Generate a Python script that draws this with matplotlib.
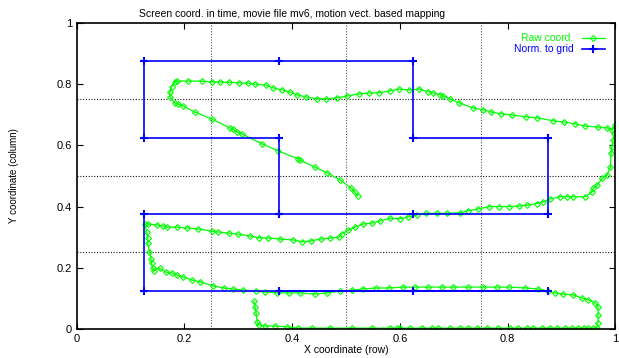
import matplotlib
matplotlib.use('Agg')
import matplotlib.pyplot as plt

plt.rcParams['font.family'] = ['Liberation Sans', 'DejaVu Sans']

# raw screen coordinates (green)
raw_x = [0.522, 0.517, 0.510, 0.489, 0.465, 0.442, 0.414, 0.411, 0.374, 0.344, 0.307,
         0.297, 0.290, 0.284, 0.251, 0.219, 0.197, 0.188, 0.182, 0.173, 0.173, 0.176,
         0.182, 0.186, 0.206, 0.232, 0.251, 0.266, 0.283, 0.301, 0.318, 0.331, 0.351,
         0.364, 0.381, 0.396, 0.409, 0.426, 0.446, 0.463, 0.483, 0.502, 0.524, 0.543,
         0.561, 0.582, 0.599, 0.617, 0.636, 0.653, 0.662, 0.675, 0.680, 0.693, 0.710,
         0.736, 0.755, 0.770, 0.788, 0.809, 0.835, 0.855, 0.885, 0.905, 0.926, 0.944,
         0.967, 0.985, 0.994, 1.000, 0.998, 0.996, 0.994, 0.992, 0.991, 0.985, 0.976,
         0.966, 0.959, 0.957, 0.944, 0.922, 0.910, 0.898, 0.879, 0.866, 0.855, 0.836,
         0.822, 0.803, 0.784, 0.766, 0.745, 0.727, 0.712, 0.688, 0.669, 0.649, 0.632,
         0.615, 0.600, 0.582, 0.563, 0.548, 0.532, 0.517, 0.504, 0.492, 0.487, 0.470,
         0.453, 0.435, 0.418, 0.402, 0.377, 0.355, 0.338, 0.322, 0.299, 0.283, 0.262,
         0.251, 0.225, 0.205, 0.186, 0.167, 0.160, 0.149, 0.132, 0.126, 0.130, 0.132,
         0.132, 0.135, 0.138, 0.139, 0.141, 0.143, 0.154, 0.165, 0.177, 0.186, 0.197,
         0.214, 0.229, 0.253, 0.273, 0.290, 0.309, 0.333, 0.349, 0.372, 0.394, 0.414,
         0.442, 0.465, 0.489, 0.511, 0.532, 0.556, 0.580, 0.606, 0.628, 0.652, 0.678,
         0.699, 0.727, 0.755, 0.781, 0.803, 0.833, 0.857, 0.875, 0.888, 0.903, 0.922,
         0.939, 0.950, 0.963, 0.968, 0.968, 0.968, 0.966, 0.959, 0.950, 0.941, 0.931,
         0.920, 0.907, 0.892, 0.879, 0.864, 0.848, 0.836, 0.820, 0.805, 0.782, 0.762,
         0.743, 0.727, 0.712, 0.693, 0.671, 0.660, 0.641, 0.619, 0.600, 0.595, 0.582,
         0.548, 0.511, 0.470, 0.437, 0.411, 0.390, 0.368, 0.349, 0.338, 0.335, 0.333,
         0.331, 0.329]
raw_y = [0.435, 0.446, 0.460, 0.487, 0.510, 0.529, 0.552, 0.556, 0.582, 0.605, 0.637,
         0.644, 0.653, 0.657, 0.686, 0.709, 0.729, 0.735, 0.739, 0.758, 0.775, 0.791,
         0.807, 0.810, 0.810, 0.810, 0.807, 0.807, 0.806, 0.804, 0.803, 0.800, 0.797,
         0.788, 0.781, 0.774, 0.765, 0.758, 0.752, 0.752, 0.755, 0.761, 0.768, 0.771,
         0.772, 0.778, 0.784, 0.781, 0.784, 0.775, 0.771, 0.765, 0.762, 0.752, 0.739,
         0.722, 0.716, 0.709, 0.703, 0.699, 0.693, 0.690, 0.680, 0.676, 0.670, 0.663,
         0.660, 0.657, 0.650, 0.667, 0.640, 0.618, 0.595, 0.575, 0.530, 0.503, 0.493,
         0.470, 0.460, 0.448, 0.432, 0.432, 0.432, 0.432, 0.425, 0.415, 0.410, 0.405,
         0.402, 0.400, 0.400, 0.400, 0.392, 0.386, 0.380, 0.378, 0.378, 0.378, 0.373,
         0.366, 0.360, 0.362, 0.353, 0.346, 0.343, 0.333, 0.323, 0.310, 0.300, 0.297,
         0.294, 0.288, 0.285, 0.291, 0.294, 0.297, 0.298, 0.304, 0.310, 0.313, 0.317,
         0.320, 0.327, 0.330, 0.333, 0.333, 0.336, 0.340, 0.343, 0.343, 0.317, 0.297,
         0.280, 0.252, 0.229, 0.216, 0.199, 0.190, 0.199, 0.186, 0.183, 0.176, 0.170,
         0.160, 0.154, 0.141, 0.134, 0.131, 0.127, 0.124, 0.121, 0.118, 0.118, 0.118,
         0.114, 0.118, 0.124, 0.127, 0.131, 0.134, 0.134, 0.137, 0.137, 0.137, 0.137,
         0.137, 0.137, 0.137, 0.137, 0.137, 0.134, 0.131, 0.124, 0.118, 0.114, 0.111,
         0.101, 0.095, 0.085, 0.072, 0.046, 0.020, 0.003, 0.003, 0.003, 0.003, 0.003,
         0.003, 0.003, 0.003, 0.003, 0.003, 0.003, 0.003, 0.003, 0.003, 0.003, 0.003,
         0.003, 0.003, 0.003, 0.003, 0.003, 0.003, 0.003, 0.003, 0.003, 0.003, 0.003,
         0.003, 0.003, 0.003, 0.003, 0.003, 0.007, 0.010, 0.010, 0.013, 0.023, 0.052,
         0.072, 0.090]

# normalised to 4x4 grid (blue)
grid_x = [0.375, 0.375, 0.125, 0.125, 0.375, 0.625, 0.625, 0.875, 0.875, 0.625, 0.375,
          0.125, 0.125, 0.375, 0.625, 0.875, 0.625, 0.375]
grid_y = [0.375, 0.625, 0.625, 0.875, 0.875, 0.875, 0.625, 0.625, 0.375, 0.375, 0.375,
          0.375, 0.125, 0.125, 0.125, 0.125, 0.125, 0.125]

ticks = [0, 0.2, 0.4, 0.6, 0.8, 1]
tick_labels = ['0', '0.2', '0.4', '0.6', '0.8', '1']
grid_lines = [0.25, 0.5, 0.75]

fig = plt.figure(figsize=(6.19, 3.58), dpi=100)
ax = fig.add_axes([0.124, 0.081, 0.87, 0.855])

for g in grid_lines:
    ax.axvline(g, color='0.35', ls=(0, (1, 1.5)), lw=0.8, zorder=0)
    ax.axhline(g, color='0.1', ls=(0, (1, 1.5)), lw=0.8, zorder=0)

ax.plot(raw_x, raw_y, color='#00ff00', lw=0.9, marker='D', ms=3, mfc='none',
        mew=0.8, label='Raw coord.')
ax.plot(grid_x, grid_y, color='#0000ff', lw=1.2, marker='+', ms=6, mew=1.5,
        label='Norm. to grid')

ax.set_xlim(0, 1)
ax.set_ylim(0, 1)
ax.set_xticks(ticks)
ax.set_xticklabels(tick_labels)
ax.set_yticks(ticks)
ax.set_yticklabels(tick_labels)
ax.tick_params(direction='in', top=True, right=True, labelsize=8, length=4, width=0.8)
for s in ax.spines.values():
    s.set_linewidth(1.2)

ax.set_title('Screen coord. in time, movie file mv6, motion vect. based mapping',
             fontsize=7.5, pad=4, x=0.40)
ax.set_xlabel('X coordinate (row)', fontsize=7.5, labelpad=1)
ax.set_ylabel('Y coordinate (column)', fontsize=7, labelpad=27)

leg = ax.legend(loc='upper right', frameon=False, markerfirst=False, fontsize=7.5,
                labelcolor='linecolor', handlelength=2.2, borderaxespad=0.6,
                labelspacing=0.1)

fig.savefig('out.png', dpi=100)
